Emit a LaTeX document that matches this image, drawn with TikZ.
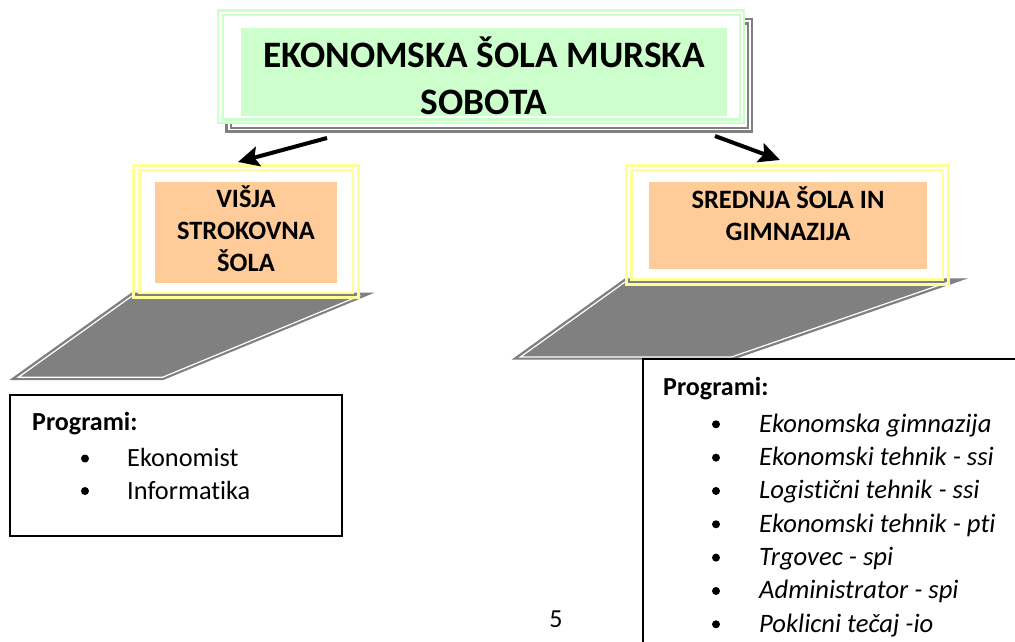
\documentclass[tikz,border=0pt]{standalone}
\usepackage{fontspec}
\setmainfont{Carlito}[Ligatures=NoCommon]
\usetikzlibrary{arrows.meta}
\definecolor{lgreen}{HTML}{CCFFCC}
\definecolor{lyellow}{HTML}{FFFF99}
\definecolor{lorange}{HTML}{FFCC99}
\definecolor{sgray}{HTML}{808080}
\begin{document}
\begin{tikzpicture}[x=1pt,y=-1pt,
  gframe/.style={draw=lgreen, line width=2.3pt},
  shline/.style={draw=sgray, line width=2.5pt},
  yframe/.style={draw=lyellow, line width=3pt},
  fillbox/.style={draw=none, inner sep=0pt, outer sep=0pt},
  titletxt/.style={inner sep=0pt, anchor=base, font=\fontsize{37.3}{45}\selectfont\bfseries},
  headtxt/.style={inner sep=0pt, anchor=base, font=\fontsize{26.5}{32}\selectfont\bfseries},
  progtxt/.style={inner sep=0pt, anchor=base west, font=\fontsize{26}{32}\selectfont\bfseries},
  itemtxt/.style={inner sep=0pt, anchor=base west, font=\fontsize{26.3}{32}\selectfont},
  itemit/.style={inner sep=0pt, anchor=base west, font=\fontsize{26.6}{32}\selectfont\itshape},
  bul/.style={circle, fill=black, inner sep=0pt, minimum size=8pt},
  progbox/.style={draw=black, line width=1.8pt, fill=white, inner sep=0pt},
  arr/.style={line width=4pt, -{Stealth[length=21pt,width=20pt,inset=4pt]}},
  shadowpoly/.style={fill=sgray},
  shadowedge/.style={draw=white, line width=1.2pt}
]
\useasboundingbox (0,0) rectangle (1015,642);
\clip (0,0) rectangle (1015,642);

% ---------- title ----------
\draw[shline] (226.3,19) rectangle (752,131.3);
\draw[shline] (230.8,23.5) rectangle (748,127.8);
\fill[white] (218.3,10.5) rectangle (743.8,122.8);
\draw[gframe] (218.3,10.5) rectangle (743.8,122.8);
\draw[gframe] (222.8,15) rectangle (740,119.5);
\node[fillbox, fill=lgreen, minimum width=486pt, minimum height=88pt] (title) at (484,72) {};
\node[titletxt] (title1) at (484,68) {EKONOMSKA ŠOLA MURSKA};
\node[titletxt] (title2) at (484,114) {SOBOTA};

% ---------- left branch ----------
\fill[shadowpoly] (131.7,292.5) -- (375,292.5) -- (163.3,380) -- (9.3,380) -- cycle;
\draw[shadowedge] (360.4,295.5) -- (162.5,377.3) -- (18.3,377.3) -- (132.7,295.5);
\draw[yframe] (133.3,165.3) rectangle (358.3,297.7);
\draw[yframe, line width=2.6pt] (139.3,170.5) rectangle (352.8,292.8);
\node[fillbox, fill=lorange, minimum width=182pt, minimum height=101pt] (vss) at (246,232.5) {};
\node[headtxt] (vss1) at (246,207.5) {VIŠJA};
\node[headtxt] (vss2) at (246,239.5) {STROKOVNA};
\node[headtxt] (vss3) at (246,271.5) {ŠOLA};

% ---------- right branch ----------
\fill[shadowpoly] (625,278.3) -- (968.3,278.3) -- (733.3,359.5) -- (511.7,359.5) -- cycle;
\draw[shadowedge] (950,281.5) -- (731.5,357) -- (520.4,357) -- (625.7,281.5);
\draw[yframe] (626.7,165.3) rectangle (948,284.7);
\draw[yframe, line width=2.6pt] (631.2,170.5) rectangle (942.8,279.5);
\node[fillbox, fill=lorange, minimum width=278pt, minimum height=87pt] (ssg) at (788,225.5) {};
\node[headtxt] (ssg1) at (788,208) {SREDNJA ŠOLA IN};
\node[headtxt] (ssg2) at (788,240) {GIMNAZIJA};

% ---------- arrows ----------
\coordinate (a1s) at (327,138);
\coordinate (a1e) at (238,162);
\coordinate (a2s) at (715,136);
\coordinate (a2e) at (780,160);
\draw[arr] (a1s) -- (a1e);
\draw[arr] (a2s) -- (a2e);

% ---------- left programme box ----------
\node[progbox, minimum width=332pt, minimum height=141pt] (p1) at (176,465.5) {};
\node[progtxt] (p1h) at (32,430) {Programi:};
\node[bul] (b11) at (85,458.5) {};
\node[itemtxt] (i11) at (127,466) {Ekonomist};
\node[bul] (b12) at (85,491) {};
\node[itemtxt] (i12) at (127,499) {Informatika};

% ---------- right programme box ----------
\node[progbox, minimum width=456.7pt, minimum height=341pt] (p2) at (871.65,529.5) {};
\node[progtxt] (p2h) at (663,395) {Programi:};
\foreach \t [count=\k from 0] in {Ekonomska gimnazija, Ekonomski tehnik - ssi, Logistični tehnik - ssi, Ekonomski tehnik - pti, Trgovec - spi, Administrator - spi, Poklicni tečaj -io}{
  \node[bul] (b2\k) at (716,{432.3+33.33*\k-8}) {};
  \node[itemit] (i2\k) at (759,{432.3+33.33*\k}) {\t};
}

% ---------- page number ----------
\node[inner sep=0pt, anchor=base, font=\fontsize{26}{32}\selectfont] (pnum) at (556,627) {5};
\end{tikzpicture}
\end{document}
